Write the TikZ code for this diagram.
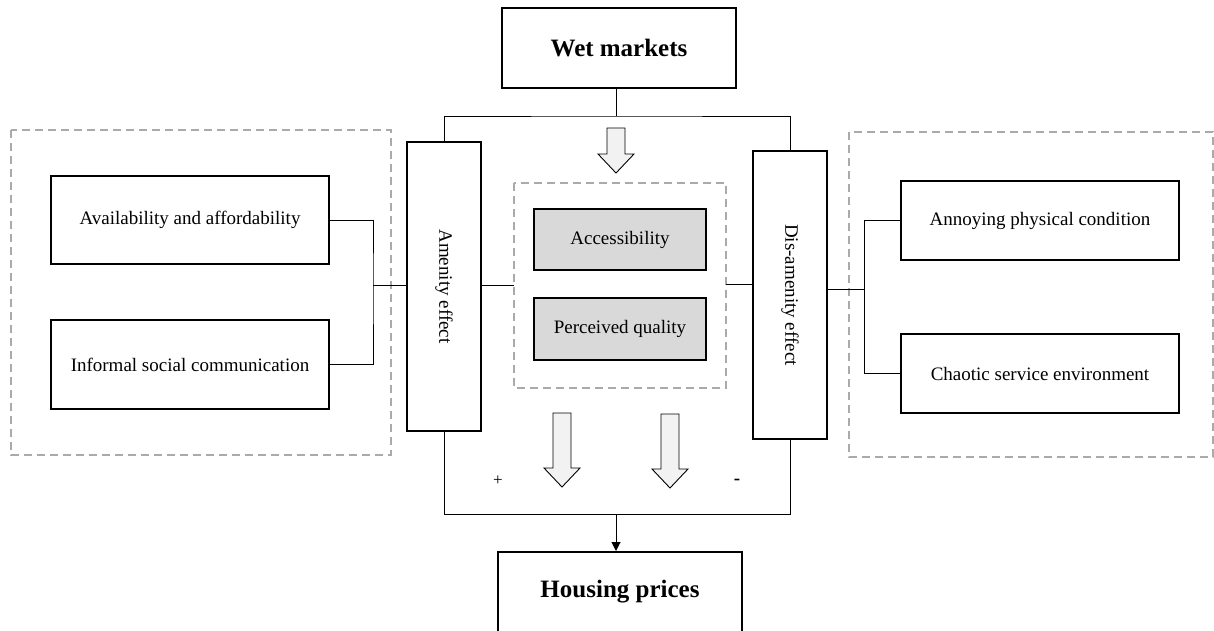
\documentclass[tikz,border=0pt]{standalone}
\usepackage{fontspec}
\setmainfont{Liberation Serif}
\usetikzlibrary{arrows.meta}

\definecolor{dashgray}{HTML}{AAAAAA}
\definecolor{boxgray}{HTML}{D9D9D9}
\definecolor{arrowfill}{HTML}{F2F2F2}

\tikzset{
  box/.style={draw=black, line width=2pt, rectangle, inner sep=0pt,
              font=\fontsize{19}{22}\selectfont, align=center},
  titlebox/.style={box, font=\fontsize{25}{29}\selectfont\bfseries},
  shadedbox/.style={box, fill=boxgray},
  groupbox/.style={draw=dashgray, line width=1.2pt, dash pattern=on 8pt off 5pt},
  link/.style={draw=black, line width=1pt},
  blockarrow/.style={draw=black, line width=0.9pt, fill=arrowfill, line join=miter},
  pics/blockdown/.style={code={
    \path[blockarrow] (-9,0) -- (9,0) -- (9,#1) -- (18,#1) -- (0,#1+19)
      -- (-18,#1) -- (-9,#1) -- cycle;
  }},
  sign/.style={inner sep=0pt, font=\fontsize{17}{20}\selectfont},
}

\begin{document}
\begin{tikzpicture}[x=1pt, y=-1pt]
  \useasboundingbox (0,0) rectangle (1214,630);
  \clip (0,0) rectangle (1214,630);

  % dashed groups
  \draw[groupbox] (11,130) rectangle (391,455);
  \draw[groupbox] (849,132) rectangle (1213,457);
  \draw[groupbox] (514,183) rectangle (726,388);
  \coordinate (cdw) at (514,285);
  \coordinate (cde) at (726,284);

  % main boxes
  \node[titlebox, minimum width=234pt, minimum height=80pt] (wet) at (619,48) {Wet markets};
  \node[titlebox, minimum width=244pt, minimum height=80pt] (house) at (620,592) {Housing prices};

  \node[box, minimum width=74pt, minimum height=289pt] (amen) at (444,286.5) {};
  \node[rotate=-90, font=\fontsize{19}{22}\selectfont, inner sep=0pt] (amenlbl) at (amen.center) {Amenity effect};
  \node[box, minimum width=74pt, minimum height=288pt] (dis) at (790,295) {};
  \node[rotate=-90, font=\fontsize{19}{22}\selectfont, inner sep=0pt] (dislbl) at (dis.center) {Dis-amenity effect};

  \node[shadedbox, minimum width=172pt, minimum height=61pt] (acc) at (620,239.5) {Accessibility};
  \node[shadedbox, minimum width=172pt, minimum height=62pt] (perc) at (620,329) {Perceived quality};

  \node[box, minimum width=278pt, minimum height=88pt] (avail) at (190,220) {Availability and affordability};
  \node[box, minimum width=278pt, minimum height=89pt] (inf) at (190,364.5) {Informal social communication};
  \node[box, minimum width=278pt, minimum height=79pt] (ann) at (1040,220.5) {Annoying physical condition};
  \node[box, minimum width=278pt, minimum height=79pt] (cha) at (1040,373.5) {Chaotic service environment};

  % junctions
  \coordinate (jt) at (616,116);
  \coordinate (jb) at (616,514);
  \coordinate (lj) at (373,285);
  \coordinate (rj) at (864,289);

  % top split
  \draw[link] (wet.south -| jt) -- (jt);
  \draw[link] (amen.north) |- (jt) -| (dis.north);

  % bottom merge
  \draw[link] (amen.south) |- (jb) -| (dis.south);
  \draw[link, -{Triangle[length=9pt, width=9pt]}] (jb) -- (house.north -| jb);

  % centre links
  \draw[link] (amen.east |- cdw) -- (cdw);
  \draw[link] (cde) -- (dis.west |- cde);

  % left bracket
  \draw[link] (avail.east) -| (lj) |- (inf.east);
  \draw[link] (lj) -- (lj -| amen.west);

  % right bracket
  \draw[link] (ann.west) -| (rj) |- (cha.west);
  \draw[link] (rj) -- (rj -| dis.east);

  % block arrows
  \pic at (616,128) {blockdown=26};
  \pic at (562,413) {blockdown=55};
  \pic at (670,414) {blockdown=55};

  % signs
  \node[sign] (plus) at (498,481) {+};
  \node[sign, font=\fontsize{19}{22}\selectfont\bfseries] (minus) at (737,482) {-};
\end{tikzpicture}
\end{document}
